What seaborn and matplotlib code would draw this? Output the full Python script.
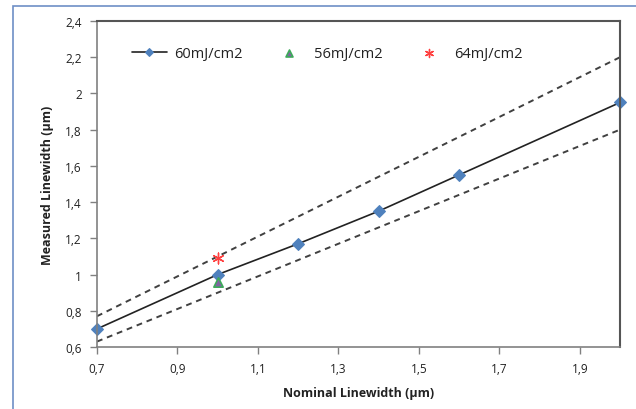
import matplotlib
matplotlib.use("Agg")
import matplotlib.pyplot as plt
import matplotlib.patches as mpatches
from matplotlib.ticker import FuncFormatter, MultipleLocator
import seaborn as sns
import pandas as pd

# Data
nominal_60 = [0.7, 1.0, 1.2, 1.4, 1.6, 2.0]
measured_60 = [0.70, 1.00, 1.17, 1.35, 1.55, 1.95]
nominal_56 = [1.0]
measured_56 = [0.96]
nominal_64 = [1.0]
measured_64 = [1.09]
tol_x = [0.7, 2.0]
tol_upper = [0.77, 2.20]
tol_lower = [0.63, 1.80]
series_labels = ["60mJ/cm2", "56mJ/cm2", "64mJ/cm2"]

sns.set_theme(style="white")
plt.rcParams['font.family'] = ['Open Sans', 'DejaVu Sans']

fig = plt.figure(figsize=(6.36, 4.10), dpi=100)
ax = fig.add_axes([97/636, 1-348/410, (620-97)/636, (348-22)/410])

df60 = pd.DataFrame({"x": nominal_60, "y": measured_60})
dfu = pd.DataFrame({"x": tol_x, "y": tol_upper})
dfl = pd.DataFrame({"x": tol_x, "y": tol_lower})

sns.lineplot(data=dfu, x="x", y="y", ax=ax, color="#404040", lw=1.4,
             linestyle=(0, (3, 2.5)), legend=False)
sns.lineplot(data=dfl, x="x", y="y", ax=ax, color="#404040", lw=1.4,
             linestyle=(0, (3, 2.5)), legend=False)
sns.lineplot(data=df60, x="x", y="y", ax=ax, color="#222222", lw=1.2,
             marker="D", markersize=6, markerfacecolor="#4F81BD",
             markeredgecolor="#4F81BD", label=series_labels[0], clip_on=False)
sns.scatterplot(x=nominal_56, y=measured_56, ax=ax, marker="^", s=45,
                color="#8064A2", edgecolor="#3DAA5A", linewidth=1.2,
                label=series_labels[1], zorder=4)
sns.scatterplot(x=nominal_64, y=measured_64, ax=ax, marker=(6, 2, 0), s=60,
                color="#FF4040", linewidth=1.0, label=series_labels[2], zorder=5)

ax.set_xlim(0.7, 2.0)
ax.set_ylim(0.6, 2.4)
ax.set_xticks([0.7, 0.9, 1.1, 1.3, 1.5, 1.7, 1.9])
ax.yaxis.set_major_locator(MultipleLocator(0.2))
fmt = FuncFormatter(lambda v, p: ("%g" % round(v, 2)).replace(".", ","))
ax.xaxis.set_major_formatter(fmt)
ax.yaxis.set_major_formatter(fmt)

ax.tick_params(axis="both", which="major", direction="out", length=5, width=1,
               color="#808080", labelsize=8.5, labelcolor="#222222", pad=6,
               bottom=True, left=True)
for side in ["left", "bottom"]:
    ax.spines[side].set_color("#808080")
    ax.spines[side].set_linewidth(1.2)
for side in ["top", "right"]:
    ax.spines[side].set_color("#555555")
    ax.spines[side].set_linewidth(1.5)

ax.set_xlabel("Nominal Linewidth (µm)", fontsize=9, fontweight="bold",
              color="#222222", labelpad=8)
ax.set_ylabel("Measured Linewidth (µm)", fontsize=9, fontweight="bold",
              color="#222222", labelpad=8)

leg = ax.legend(loc="center", bbox_to_anchor=(0.44, 0.90), ncol=3,
                frameon=False, fontsize=10.5, columnspacing=2.0,
                handlelength=2.4, handletextpad=0.5, markerscale=0.75)
for t in leg.get_texts():
    t.set_color("#222222")

# Chart border (blue frame)
fig.patches.append(mpatches.Rectangle((13/636, -0.1), 1.2, 1 - 7/410 + 0.1,
                   transform=fig.transFigure, fill=False,
                   edgecolor="#6E8FC6", linewidth=1.2))

fig.savefig("out.png", dpi=100)
